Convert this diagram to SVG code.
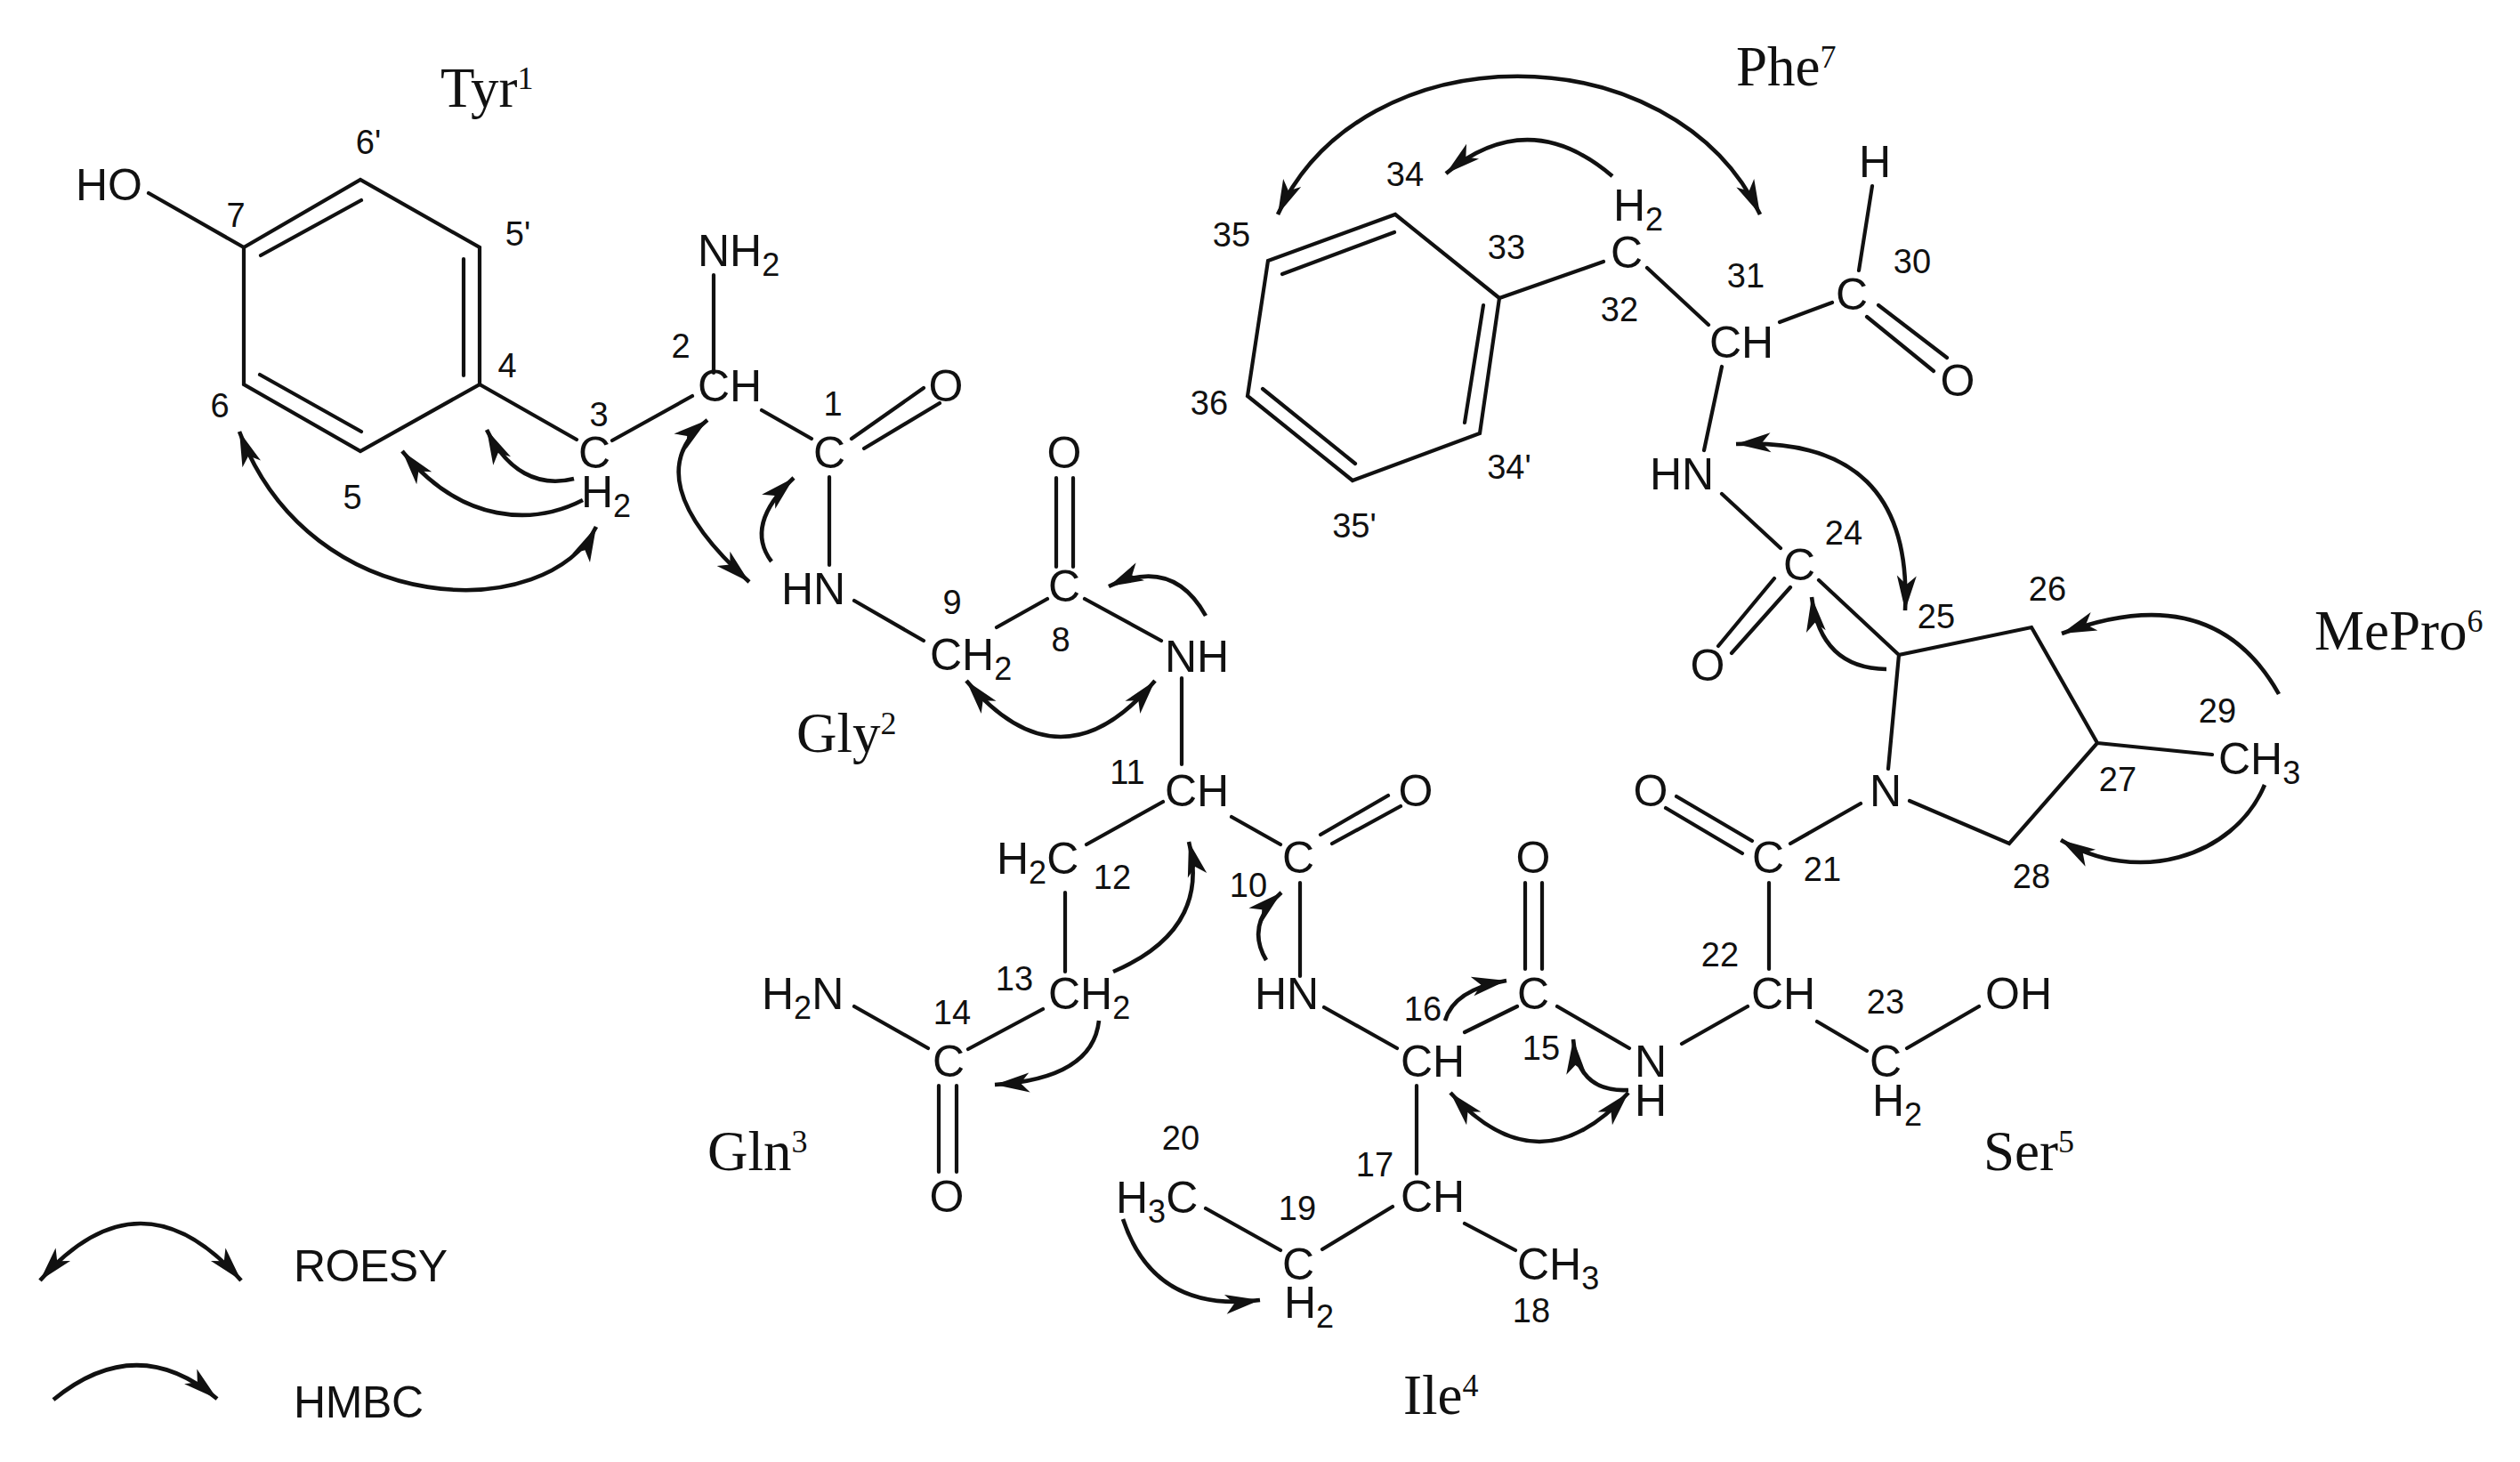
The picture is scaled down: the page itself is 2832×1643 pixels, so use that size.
<svg xmlns="http://www.w3.org/2000/svg" width="2832" height="1643" viewBox="0 0 2832 1643">
<style>
text{font-family:"Liberation Sans",Arial,sans-serif;fill:#111}
.a{font-size:50px}
.m{font-size:50px;text-anchor:middle}
.n{font-size:38px;text-anchor:middle}
.r{font-family:"Liberation Serif","Times New Roman",serif;font-size:63px}
.r tspan{font-size:36px}
.a tspan.s{font-size:36px}
.b{fill:none;stroke:#111;stroke-width:4.2;stroke-linecap:round}
.c{fill:none;stroke:#111;stroke-width:4.6;stroke-linecap:butt}
.one{marker-end:url(#h)}
.two{marker-start:url(#h);marker-end:url(#h)}
</style>
<defs>
<marker id="h" markerUnits="userSpaceOnUse" markerWidth="44" markerHeight="30" viewBox="0 0 44 30" refX="41" refY="15" orient="auto-start-reverse">
<path d="M41,15 L2,4 L12,15 L2,26 Z" fill="#111"/>
</marker>
</defs>
<rect width="2832" height="1643" fill="#fff"/>
<g id="bonds" class="b">
<path d="M274,278 405,202 539,278 539,432 405,507 274,432Z"/>
<path d="M293,287 406,225M521,291V422M292,421 406,485"/>
<path d="M167,217 274,278M539,432 648,494M688,495 778,445M802,419V309M856,461 912,493M957,493 1038,436M971,504 1056,453M932,536V635M960,675 1038,720M1120,705 1177,673M1187,537V637M1206,537V637M1219,673 1305,720M1328,762V859"/>
<path d="M1307,901 1221,949M1197,1003V1092M1172,1134 1088,1179M960,1131 1043,1178M1055,1220V1317M1075,1220V1317M1384,918 1439,949M1484,938 1560,894M1497,948 1574,906M1461,992V1097"/>
<path d="M1488,1132 1570,1178M1646,1160 1705,1131M1714,992V1089M1733,992V1089M1750,1131 1831,1178M1592,1220V1319M1565,1356 1486,1404M1646,1375 1703,1405M1355,1358 1439,1405M1890,1173 1964,1131M2042,1148 2098,1181M2143,1178 2224,1131M1988,992V1089M2091,903 2012,948M1969,945 1884,895M1958,959 1872,908"/>
<path d="M2146,900 2258,948 2357,835 2283,705 2134,736 2122,864M2357,835 2486,848M2044,652 2134,736M1994,650 1931,726M2012,660 1946,734M1935,555 2001,616M1935,412 1915,506M1851,301 1920,365M2000,362 2059,340M2089,304 2104,209M2111,343 2188,402M2098,356 2173,417M1685,335 1802,294"/>
<path d="M1685,335 1568,241 1425,293 1402,445 1520,540 1663,487Z"/>
<path d="M1441,308 1567,261M1667,343 1646,475M1419,437 1523,521"/>
</g>
<g id="correlations" class="c">
<path class="one" d="M645,538C605,548 570,530 547,483"/>
<path class="one" d="M655,562C600,590 520,590 452,507"/>
<path class="two" d="M269,485C350,700 618,700 670,592"/>
<path class="two" d="M795,472Q712,537 842,654"/>
<path class="one" d="M867,631Q836,590 892,537"/>
<path class="one" d="M1355,692Q1318,625 1246,659"/>
<path class="two" d="M1086,765Q1192,891 1298,765"/>
<path class="two" d="M1436,241C1530,34 1880,34 1978,241"/>
<path class="one" d="M1812,198Q1718,118 1625,195"/>
<path class="two" d="M1951,499Q2150,490 2141,686"/>
<path class="one" d="M2120,752Q2046,751 2036,671"/>
<path class="one" d="M2561,780Q2487,648 2317,712"/>
<path class="one" d="M2545,882C2510,965 2400,995 2316,944"/>
<path class="one" d="M1624,1147Q1634,1112 1693,1102"/>
<path class="one" d="M1830,1225Q1773,1228 1768,1168"/>
<path class="two" d="M1630,1228Q1730,1338 1830,1228"/>
<path class="one" d="M1423,1079Q1399,1039 1440,1003"/>
<path class="one" d="M1251,1092Q1361,1045 1336,946"/>
<path class="one" d="M1235,1147Q1228,1212 1118,1219"/>
<path class="one" d="M1262,1370Q1297,1476 1416,1461"/>
<path class="two" d="M45,1439Q158,1311 271,1439"/>
<path class="one" d="M60,1573Q154,1496 244,1572"/>
</g>
<g id="atom-ho7"><text class="a" x="85" y="225">HO</text></g>
<g id="atom-nh2"><text class="a" x="784" y="299">NH<tspan class="s" dy="11">2</tspan></text></g>
<g id="atom-ch2"><text class="a" x="784" y="451">CH</text></g>
<g id="atom-c1"><text class="m" x="932" y="526">C</text></g>
<g id="atom-o1"><text class="m" x="1063" y="451">O</text></g>
<g id="atom-c3"><text class="m" x="668" y="526">C</text></g>
<g id="atom-h3"><text class="a" x="653" y="570">H<tspan class="s" dy="11">2</tspan></text></g>
<g id="atom-hn1"><text class="a" x="878" y="679">HN</text></g>
<g id="atom-o8"><text class="m" x="1196" y="526">O</text></g>
<g id="atom-c8"><text class="m" x="1196" y="676">C</text></g>
<g id="atom-ch9"><text class="a" x="1045" y="753">CH<tspan class="s" dy="11">2</tspan></text></g>
<g id="atom-nh8"><text class="a" x="1309" y="755">NH</text></g>
<g id="atom-ch11"><text class="a" x="1309" y="906">CH</text></g>
<g id="atom-h2c12"><text class="a" x="1120" y="982">H<tspan class="s" dy="11">2</tspan><tspan dy="-11">C</tspan></text></g>
<g id="atom-ch13"><text class="a" x="1178" y="1134">CH<tspan class="s" dy="11">2</tspan></text></g>
<g id="atom-h2n"><text class="a" x="856" y="1134">H<tspan class="s" dy="11">2</tspan><tspan dy="-11">N</tspan></text></g>
<g id="atom-c14"><text class="m" x="1066" y="1210">C</text></g>
<g id="atom-o14"><text class="m" x="1064" y="1362">O</text></g>
<g id="atom-c10"><text class="m" x="1459" y="981">C</text></g>
<g id="atom-o10"><text class="m" x="1591" y="906">O</text></g>
<g id="atom-hn10"><text class="a" x="1410" y="1134">HN</text></g>
<g id="atom-ch16"><text class="a" x="1574" y="1210">CH</text></g>
<g id="atom-c15"><text class="m" x="1723" y="1134">C</text></g>
<g id="atom-o15"><text class="m" x="1723" y="981">O</text></g>
<g id="atom-n15"><text class="m" x="1855" y="1210">N</text></g>
<g id="atom-h15"><text class="m" x="1855" y="1254">H</text></g>
<g id="atom-ch17"><text class="a" x="1574" y="1362">CH</text></g>
<g id="atom-ch318"><text class="a" x="1705" y="1438">CH<tspan class="s" dy="11">3</tspan></text></g>
<g id="atom-c19"><text class="m" x="1459" y="1438">C</text></g>
<g id="atom-h19"><text class="a" x="1443" y="1481">H<tspan class="s" dy="11">2</tspan></text></g>
<g id="atom-h3c"><text class="a" x="1254" y="1363">H<tspan class="s" dy="11">3</tspan><tspan dy="-11">C</tspan></text></g>
<g id="atom-ch22"><text class="a" x="1968" y="1134">CH</text></g>
<g id="atom-c23"><text class="m" x="2119" y="1210">C</text></g>
<g id="atom-h23"><text class="a" x="2104" y="1254">H<tspan class="s" dy="11">2</tspan></text></g>
<g id="atom-oh"><text class="a" x="2231" y="1134">OH</text></g>
<g id="atom-c21"><text class="m" x="1987" y="981">C</text></g>
<g id="atom-o21"><text class="m" x="1855" y="906">O</text></g>
<g id="atom-n"><text class="m" x="2119" y="906">N</text></g>
<g id="atom-ch329"><text class="a" x="2493" y="870">CH<tspan class="s" dy="11">3</tspan></text></g>
<g id="atom-c24"><text class="m" x="2022" y="652">C</text></g>
<g id="atom-o24"><text class="m" x="1919" y="765">O</text></g>
<g id="atom-hn24"><text class="a" x="1854" y="550">HN</text></g>
<g id="atom-ch31"><text class="a" x="1921" y="402">CH</text></g>
<g id="atom-c30"><text class="m" x="2081" y="348">C</text></g>
<g id="atom-h30"><text class="m" x="2107" y="199">H</text></g>
<g id="atom-o30"><text class="m" x="2200" y="445">O</text></g>
<g id="atom-c32"><text class="m" x="1828" y="301">C</text></g>
<g id="atom-h32"><text class="a" x="1813" y="248">H<tspan class="s" dy="11">2</tspan></text></g>
<g id="locants">
<text class="n" x="414" y="173">6'</text><text class="n" x="265" y="255">7</text><text class="n" x="582" y="276">5'</text><text class="n" x="570" y="424">4</text><text class="n" x="247" y="469">6</text><text class="n" x="396" y="572">5</text><text class="n" x="673" y="479">3</text><text class="n" x="765" y="402">2</text><text class="n" x="936" y="467">1</text><text class="n" x="1070" y="690">9</text><text class="n" x="1192" y="732">8</text>
<text class="n" x="1267" y="881">11</text><text class="n" x="1250" y="999">12</text><text class="n" x="1140" y="1113">13</text><text class="n" x="1070" y="1151">14</text><text class="n" x="1403" y="1008">10</text><text class="n" x="1327" y="1292">20</text>
<text class="n" x="1599" y="1147">16</text><text class="n" x="1732" y="1191">15</text><text class="n" x="1545" y="1322">17</text><text class="n" x="1458" y="1371">19</text><text class="n" x="1721" y="1486">18</text><text class="n" x="1933" y="1086">22</text><text class="n" x="2119" y="1139">23</text><text class="n" x="2048" y="990">21</text><text class="n" x="2380" y="889">27</text><text class="n" x="2283" y="998">28</text>
<text class="n" x="1579" y="209">34</text><text class="n" x="1384" y="277">35</text><text class="n" x="1359" y="466">36</text><text class="n" x="1693" y="291">33</text><text class="n" x="1820" y="361">32</text><text class="n" x="1962" y="323">31</text><text class="n" x="2149" y="307">30</text><text class="n" x="1696" y="538">34'</text><text class="n" x="1522" y="604">35'</text><text class="n" x="2072" y="612">24</text><text class="n" x="2176" y="706">25</text><text class="n" x="2301" y="675">26</text><text class="n" x="2492" y="812">29</text>
</g>
<g id="residues">
<text class="r" x="495" y="120">Tyr<tspan dy="-20">1</tspan></text>
<text class="r" x="1951" y="96">Phe<tspan dy="-20">7</tspan></text>
<text class="r" x="895" y="845">Gly<tspan dy="-20">2</tspan></text>
<text class="r" x="2601" y="730">MePro<tspan dy="-20">6</tspan></text>
<text class="r" x="795" y="1315">Gln<tspan dy="-20">3</tspan></text>
<text class="r" x="2229" y="1315">Ser<tspan dy="-20">5</tspan></text>
<text class="r" x="1577" y="1589">Ile<tspan dy="-20">4</tspan></text>
</g>
<g id="legend">
<text class="a" x="330" y="1440" textLength="173">ROESY</text>
<text class="a" x="330" y="1593" textLength="146">HMBC</text>
</g>
</svg>
